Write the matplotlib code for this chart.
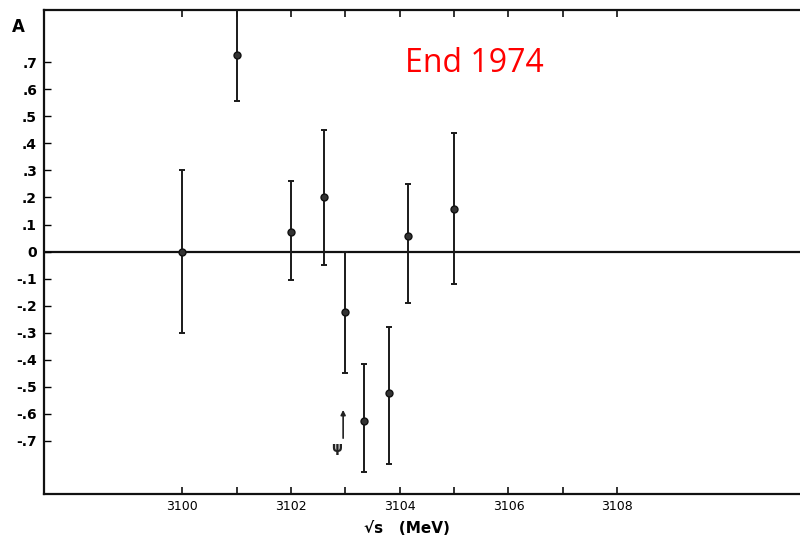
import numpy as np
import matplotlib
matplotlib.use("Agg")
import matplotlib.pyplot as plt

# measured points (sqrt(s) in MeV, asymmetry value, error)
energy_mev = [3100.0, 3101.0, 3102.0, 3102.6, 3103.0, 3103.35, 3103.8, 3104.15, 3105.0]
value = [0.0, 0.726, 0.074, 0.20, -0.222, -0.626, -0.522, 0.059, 0.159]
err_up = [0.30, 0.17, 0.186, 0.248, 0.222, 0.211, 0.244, 0.189, 0.278]
err_down = [0.30, 0.17, 0.178, 0.248, 0.226, 0.189, 0.263, 0.248, 0.278]

y_ticks = [0.7, 0.6, 0.5, 0.4, 0.3, 0.2, 0.1, 0.0, -0.1, -0.2, -0.3, -0.4, -0.5, -0.6, -0.7]
y_tick_labels = [".7", ".6", ".5", ".4", ".3", ".2", ".1", "0",
                 "-.1", "-.2", "-.3", "-.4", "-.5", "-.6", "-.7"]
x_major = [3100, 3102, 3104, 3106, 3108]
x_minor = [3101, 3103, 3105, 3107]

psi_energy = 3102.96

fig = plt.figure(figsize=(8, 5.42), dpi=100)
ax = fig.add_axes([0.055, 0.0886, 0.945, 0.893])

ax.axhline(0, color="#111111", lw=1.6, zorder=1)

ax.errorbar(energy_mev, value, yerr=[err_down, err_up], fmt="o", ms=5,
            color="#1a1a1a", mfc="#333333", mec="#111111", ecolor="#1a1a1a",
            elinewidth=1.4, capsize=2, capthick=1.4, zorder=3, clip_on=True)

# psi marker
ax.annotate("", xy=(psi_energy, -0.575), xytext=(psi_energy, -0.70),
            arrowprops=dict(arrowstyle="-|>", color="#222222", lw=1.2,
                            mutation_scale=7))
ax.text(psi_energy - 0.12, -0.725, "ψ", ha="center", va="center",
        fontsize=10, fontweight="bold", color="#222222")

ax.set_xlim(3097.46, 3111.36)
ax.set_ylim(-0.896, 0.893)

ax.set_xticks(x_major)
ax.set_xticks(x_minor, minor=True)
ax.set_xticklabels([str(v) for v in x_major], fontsize=9,
                   family="DejaVu Sans Condensed")
ax.set_yticks(y_ticks)
ax.set_yticklabels(y_tick_labels, fontsize=10, fontweight="bold",
                   family="DejaVu Sans Condensed")

ax.tick_params(axis="x", which="both", direction="in", top=True, length=5,
               width=1.2, pad=4, color="#111111")
ax.tick_params(axis="y", direction="in", length=5, width=1, pad=5)

for side in ["left", "bottom", "top"]:
    ax.spines[side].set_linewidth(1.6)
    ax.spines[side].set_color("#111111")
ax.spines["right"].set_visible(False)

ax.set_xlabel("√s   (MeV)", fontsize=11, fontweight="bold")
ax.xaxis.set_label_coords(0.48, -0.055)

fig.text(18 / 800, 1 - 27 / 542, "A", fontsize=12, fontweight="bold",
         ha="center", va="center")
fig.text(474 / 800, 1 - 63 / 542, "End 1974", fontsize=23, color="#ff0000",
         family="Open Sans", ha="center", va="center")

fig.savefig("out.png", dpi=100)
